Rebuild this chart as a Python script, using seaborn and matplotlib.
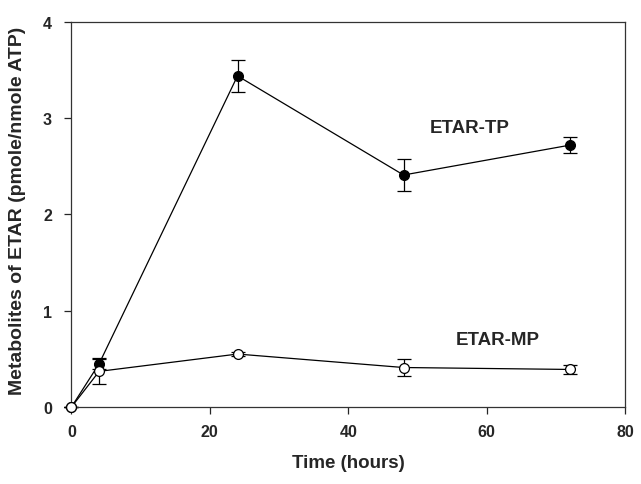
import pandas as pd
import matplotlib.pyplot as plt
import seaborn as sns

# data
time_h = [0, 4, 24, 48, 72]
tp_mean = [0.0, 0.45, 3.44, 2.41, 2.72]
tp_err = [0.0, 0.06, 0.17, 0.17, 0.085]
mp_mean = [0.0, 0.37, 0.55, 0.41, 0.39]
mp_err = [0.0, 0.13, 0.02, 0.085, 0.045]

df = pd.DataFrame({
    'Time': time_h * 2,
    'Value': tp_mean + mp_mean,
    'Err': tp_err + mp_err,
    'Metabolite': ['ETAR-TP'] * 5 + ['ETAR-MP'] * 5,
})

sns.set_style("ticks")
plt.rcParams['font.family'] = ['Liberation Sans', 'DejaVu Sans']

fig = plt.figure(figsize=(6.41, 4.85), dpi=100)
ax = fig.add_axes([0.1115, 0.1588, 0.8635, 0.7938])

# error bars first so markers sit on top
for name in ['ETAR-TP', 'ETAR-MP']:
    sub = df[df['Metabolite'] == name]
    ax.errorbar(sub['Time'], sub['Value'], yerr=sub['Err'], fmt='none',
                ecolor='black', elinewidth=0.9, capsize=5, capthick=0.9,
                zorder=2, clip_on=False)

sns.lineplot(data=df, x='Time', y='Value', units='Metabolite', estimator=None,
             color='black', linewidth=0.9, ax=ax, legend=False, zorder=3)

for name, face in [('ETAR-TP', 'black'), ('ETAR-MP', 'white')]:
    sub = df[df['Metabolite'] == name]
    sns.scatterplot(x=sub['Time'], y=sub['Value'], color=face, edgecolor='black',
                    linewidth=0.9, s=50, ax=ax, zorder=4, clip_on=False, legend=False)

ax.set_xlim(0, 80)
ax.set_ylim(0, 4)
ax.set_xticks([0, 20, 40, 60, 80])
ax.set_yticks([0, 1, 2, 3, 4])
ax.tick_params(axis='both', direction='out', length=5, width=0.9, labelsize=11.5)
ax.tick_params(axis='y', pad=9)
ax.tick_params(axis='x', pad=7)
for lab in ax.get_xticklabels() + ax.get_yticklabels():
    lab.set_fontweight('bold')
for s in ax.spines.values():
    s.set_visible(True)
    s.set_linewidth(0.9)
    s.set_color('#333333')

ax.set_xlabel('Time (hours)', fontsize=13.5, fontweight='bold', labelpad=11)
ax.set_ylabel('Metabolites of ETAR (pmole/nmole ATP)', fontsize=14, fontweight='bold')
ax.yaxis.set_label_coords(-0.083, 0.512)

ax.text(57.6, 2.9, 'ETAR-TP', fontsize=13.5, fontweight='bold', ha='center', va='center')
ax.text(61.6, 0.70, 'ETAR-MP', fontsize=13.5, fontweight='bold', ha='center', va='center')

fig.savefig('out.png', dpi=100)
